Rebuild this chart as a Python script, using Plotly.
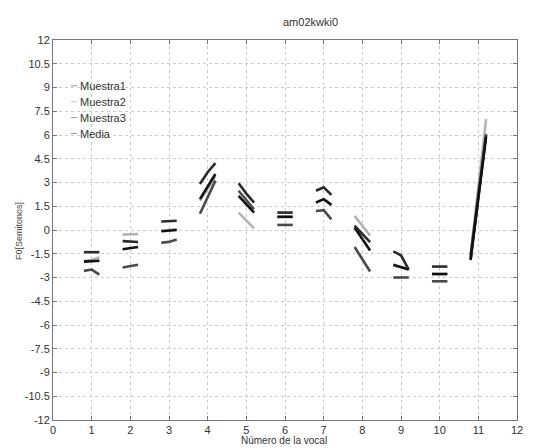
import plotly.graph_objects as go

# ---------------- data ----------------
vocales = [1, 2, 3, 4, 5, 6, 7, 8, 9, 10, 11]
tiempo_rel = [-0.2, 0.0, 0.2]   # relative position of the 3 contour points inside each vowel

muestra1 = [
    [-1.40, -1.40, -1.40],
    [-0.70, -0.72, -0.76],
    [0.54, 0.57, 0.58],
    [2.90, 3.65, 4.22],
    [2.95, 2.30, 1.73],
    [1.10, 1.10, 1.10],
    [2.48, 2.70, 2.22],
    [0.27, -0.25, -0.76],
    [-1.35, -1.60, -2.50],
    [-2.31, -2.31, -2.31],
    [-1.90, 2.05, 6.00],
]
muestra2 = [
    [-1.95, -1.90, -1.72],
    [-0.29, -0.27, -0.25],
    [-0.05, 0.00, 0.05],
    [1.84, 2.60, 3.37],
    [1.10, 0.60, 0.10],
    [0.85, 0.85, 0.85],
    [1.75, 1.95, 1.60],
    [0.89, 0.27, -0.35],
    [-2.25, -2.35, -2.50],
    [-2.78, -2.78, -2.78],
    [-1.60, 2.70, 7.00],
]
muestra3 = [
    [-2.58, -2.50, -2.82],
    [-2.37, -2.30, -2.20],
    [-0.80, -0.75, -0.60],
    [1.03, 2.10, 3.12],
    [2.48, 1.90, 1.31],
    [0.32, 0.32, 0.32],
    [1.20, 1.25, 0.67],
    [-1.07, -1.85, -2.62],
    [-3.00, -3.00, -3.00],
    [-3.24, -3.24, -3.24],
    [-1.60, 2.25, 6.05],
]
media = [
    [-2.00, -1.97, -1.94],
    [-1.22, -1.15, -1.07],
    [-0.08, -0.04, 0.00],
    [1.95, 2.75, 3.54],
    [2.16, 1.65, 1.10],
    [0.83, 0.83, 0.83],
    [1.73, 1.95, 1.59],
    [0.16, -0.55, -1.30],
    [-2.20, -2.35, -2.50],
    [-2.78, -2.78, -2.78],
    [-1.85, 2.00, 5.90],
]

x_ticks = list(range(0, 13))
y_ticks = [-12, -10.5, -9, -7.5, -6, -4.5, -3, -1.5, 0, 1.5, 3, 4.5, 6, 7.5, 9, 10.5, 12]
y_ticktext = ["-12", "-10.5", "-9", "-7.5", "-6", "-4.5", "-3", "-1.5", "0",
              "1.5", "3", "4.5", "6", "7.5", "9", "10.5", "12"]

series = [
    ("Muestra1", muestra1, "#2b2b2b"),
    ("Muestra2", muestra2, "#b3b3b3"),
    ("Muestra3", muestra3, "#4a4a4a"),
    ("Media", media, "#111111"),
]

# ---------------- layout constants (pixels) ----------------
W, H = 545, 448
ML, MR, MT, MB = 53, 28, 40, 26
PW, PH = W - ML - MR, H - MT - MB


def px_x(px):
    return (px - ML) / PW


def px_y(py):
    return (H - MB - py) / PH


# ---------------- figure ----------------
fig = go.Figure()
for name, vals, color in series:
    xs, ys = [], []
    for v, seg in zip(vocales, vals):
        xs += [v + t for t in tiempo_rel] + [None]
        ys += list(seg) + [None]
    fig.add_trace(go.Scatter(x=xs, y=ys, mode="lines", name=name,
                             line=dict(color=color, width=2.6),
                             connectgaps=False, showlegend=False))

font_fam = "Liberation Sans, Arial, sans-serif"
axis_common = dict(showgrid=True, gridcolor="#cccccc", griddash="dot", gridwidth=1,
                   showline=True, linecolor="#777", linewidth=1, mirror="ticks",
                   ticks="inside", ticklen=4, tickcolor="#777",
                   zeroline=False, tickfont=dict(family=font_fam, size=11, color="#333"))

# MATLAB-style legend without box: short line sample + label, stacked
legend_px_y = [86, 102, 118, 134]
shapes = []
annotations = []
for (name, _, color), py in zip(series, legend_px_y):
    ly = px_y(py)
    shapes.append(dict(type="line", xref="paper", yref="paper",
                       x0=px_x(71), x1=px_x(77), y0=ly, y1=ly,
                       line=dict(color="#c4c4c4" if name == "Muestra2" else "#999", width=1)))
    annotations.append(dict(text=name, xref="paper", yref="paper", x=px_x(78), y=ly,
                            xanchor="left", yanchor="middle", showarrow=False,
                            font=dict(family=font_fam, size=11, color="#333")))

annotations += [
    dict(text="am02kwki0", xref="paper", yref="paper", x=px_x(310), y=px_y(22),
         yanchor="middle", showarrow=False, font=dict(family=font_fam, size=11, color="#333")),
    dict(text="Número de la vocal", xref="paper", yref="paper", x=px_x(284), y=px_y(436),
         yanchor="top", showarrow=False, borderpad=0,
         font=dict(family=font_fam, size=10, color="#333")),
    dict(text="F0[Semitonos]", xref="paper", yref="paper", x=px_x(12), y=px_y(232),
         textangle=-90, showarrow=False,
         font=dict(family=font_fam, size=9, color="#444")),
]

fig.update_layout(
    width=W, height=H,
    margin=dict(l=ML, r=MR, t=MT, b=MB),
    paper_bgcolor="white", plot_bgcolor="white",
    showlegend=False,
    xaxis=dict(range=[0, 12], tickvals=x_ticks, **axis_common),
    yaxis=dict(range=[-12, 12], tickvals=y_ticks, ticktext=y_ticktext, **axis_common),
    shapes=shapes,
    annotations=annotations,
)

fig.write_html("out.html")
